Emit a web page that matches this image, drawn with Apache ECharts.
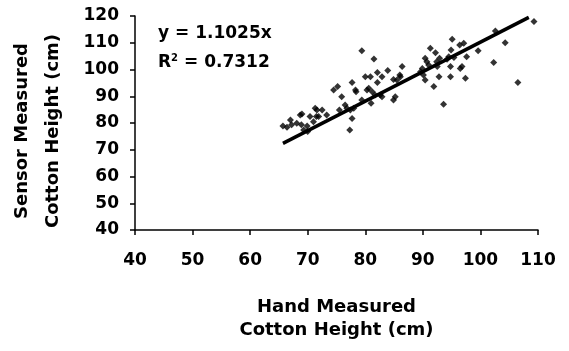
<!DOCTYPE html>
<html><head><meta charset="utf-8">
<script src="https://cdn.jsdelivr.net/npm/echarts@6/dist/echarts.min.js"></script>
<style>html,body{margin:0;padding:0;background:#fff}#c{width:569px;height:351px}</style>
</head><body><div id="c"></div>
<script>
var handX = [65.7,66.4,67.0,67.2,68.1,68.7,68.9,69.3,69.9,70.4,71.0,71.6,71.9,
69.0,70.0,71.3,71.5,72.5,73.3,74.5,75.2,75.9,75.5,76.5,76.8,77.4,77.7,78.0,77.3,77.7,78.3,78.4,
79.4,79.4,80.0,80.3,80.6,80.9,81.0,81.2,81.5,81.7,82.1,82.1,82.6,82.9,82.9,83.9,84.9,84.9,85.2,85.5,86.0,86.1,86.4,
89.6,89.9,90.1,90.4,90.4,90.7,91.0,91.3,91.9,92.2,92.4,92.5,92.8,92.9,93.6,94.2,94.5,94.8,94.8,94.9,95.1,95.4,96.4,96.5,96.8,97.1,97.4,97.6,
99.6,102.3,102.6,104.3,106.5,109.3];
var sensorY = [78.9,78.4,81.1,79.3,79.9,83.0,79.3,77.4,78.9,82.4,80.5,84.9,82.4,
83.4,76.8,85.5,82.4,84.9,83.0,92.3,93.6,89.8,84.9,86.7,85.5,84.9,95.1,85.5,77.4,81.7,92.3,91.7,
107.0,88.6,97.3,92.3,93.0,97.3,87.4,91.7,103.9,90.5,98.9,95.1,90.5,97.3,89.8,99.6,96.3,88.6,89.8,96.1,97.9,97.3,101.1,
99.2,100.4,97.9,104.2,96.1,102.9,101.7,107.9,93.6,106.3,102.9,101.1,97.3,104.2,87.0,103.8,104.8,97.3,101.1,107.3,111.3,104.5,109.2,100.4,101.1,109.8,96.7,104.8,
107.0,102.6,114.4,110.0,95.1,117.9];
var trendX = [65.7, 108.4];
var trendY = [72.4, 119.5];
var xTicks = [40,50,60,70,80,90,100,110];
var yTicks = [40,50,60,70,80,90,100,110,120];
var eqText = 'y = 1.1025x';
var r2Text = '0.7312';
var xTitle = 'Hand Measured\nCotton Height (cm)';
var yTitle = 'Sensor Measured\nCotton Height (cm)';

var FONT = 'DejaVu Sans';
var chart = echarts.init(document.getElementById('c'), null, {renderer:'canvas'});
var pts = handX.map(function(x,i){return [x, sensorY[i]];});
var tr = trendX.map(function(x,i){return [x, trendY[i]];});
var axisCommon = {
  axisLine:{show:true,onZero:false,lineStyle:{color:'#000',width:1.5}},
  axisTick:{show:true,inside:false,length:5,lineStyle:{color:'#000',width:1.5}},
  splitLine:{show:false}
};
chart.setOption({
  animation:false,
  grid:{left:135,right:31,top:16,bottom:121,containLabel:false},
  xAxis:Object.assign({type:'value',min:xTicks[0],max:xTicks[xTicks.length-1],interval:10,
    name:xTitle,nameLocation:'middle',nameGap:66,
    axisLabel:{color:'#000',fontFamily:FONT,fontWeight:'bold',fontSize:17,margin:22},
    nameTextStyle:{color:'#000',fontFamily:FONT,fontWeight:'bold',fontSize:18,lineHeight:23}},axisCommon),
  yAxis:Object.assign({type:'value',min:yTicks[0],max:yTicks[yTicks.length-1],interval:10,
    axisLabel:{color:'#000',fontFamily:FONT,fontWeight:'bold',fontSize:17,margin:16}},axisCommon),
  series:[
    {type:'scatter',data:pts,symbol:'diamond',symbolSize:7,itemStyle:{color:'#000'}},
    {type:'line',data:tr,symbol:'none',lineStyle:{color:'#000',width:3.5},z:3}
  ],
  graphic:[
    {type:'text',x:38,y:131,rotation:Math.PI/2,style:{text:yTitle,fill:'#000',
      font:'bold 18px "'+FONT+'"',lineHeight:31,align:'center',verticalAlign:'middle'}},
    {type:'text',left:158,top:25,style:{text:eqText,fill:'#000',font:'bold 17px "'+FONT+'"'}},
    {type:'text',left:158,top:53,style:{
      text:'{a|R}{s|2}{a| = '+r2Text+'}',
      rich:{a:{fill:'#000',font:'bold 17px "'+FONT+'"',verticalAlign:'bottom'},
            s:{fill:'#000',font:'bold 10px "'+FONT+'"',verticalAlign:'top',padding:[0,0,8,0]}}
    }}
  ]
});
</script></body></html>
